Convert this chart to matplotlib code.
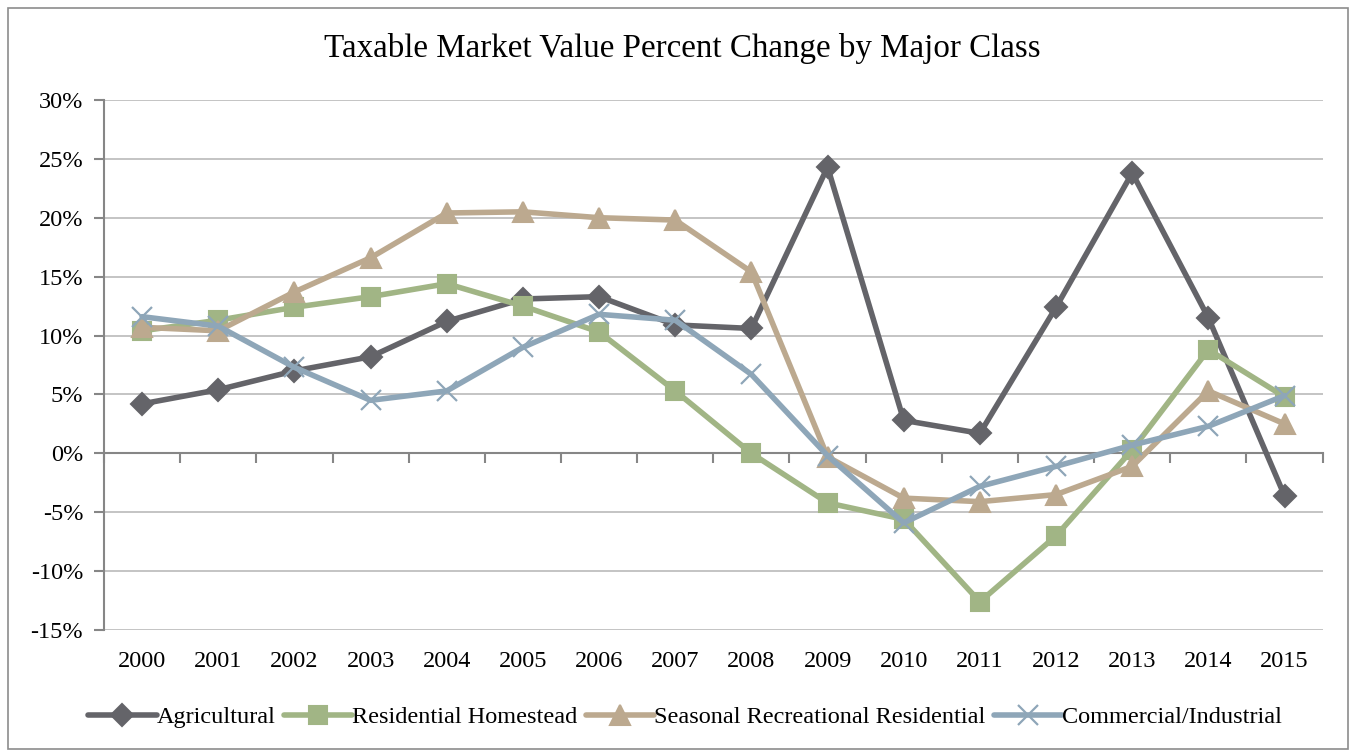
import numpy as np
import matplotlib.pyplot as plt
from matplotlib import transforms
from matplotlib.patches import Rectangle

years = [str(y) for y in range(2000, 2016)]
agricultural = [4.2, 5.4, 7.0, 8.2, 11.2, 13.1, 13.3, 10.9, 10.6, 24.3, 2.8, 1.7, 12.4, 23.8, 11.5, -3.6]
res_homestead = [10.4, 11.3, 12.4, 13.3, 14.4, 12.5, 10.3, 5.3, 0.0, -4.2, -5.6, -12.6, -7.0, 0.3, 8.8, 4.8]
seasonal_rec = [10.7, 10.4, 13.7, 16.6, 20.4, 20.5, 20.0, 19.8, 15.4, -0.3, -3.8, -4.1, -3.5, -1.1, 5.3, 2.5]
commercial = [11.6, 10.8, 7.3, 4.5, 5.3, 9.0, 11.8, 11.3, 6.7, -0.2, -5.9, -2.8, -1.1, 0.7, 2.3, 4.9]

plt.rcParams['font.family'] = ['Liberation Serif', 'DejaVu Serif']

fig = plt.figure(figsize=(13.51, 7.51), dpi=100)
fig.patches.append(Rectangle((0.006, 0.003), 0.992, 0.986, transform=fig.transFigure,
                             fill=False, edgecolor='#8c8c8c', linewidth=1.2))
ax = fig.add_axes([0.077, 0.161, 0.902, 0.706])

x = np.arange(len(years))
series = [
    ('Agricultural', agricultural, '#646469', 'D', 11, 1.5),
    ('Residential Homestead', res_homestead, '#a1b585', 's', 13, 1.5),
    ('Seasonal Recreational Residential', seasonal_rec, '#bca98f', '^', 14, 1.5),
    ('Commercial/Industrial', commercial, '#8ea6b8', 'x', 14, 1.6),
]
for name, vals, col, mk, ms, mew in series:
    ax.plot(x, vals, color=col, linewidth=4.0, marker=mk, markersize=ms,
            markeredgewidth=mew, markeredgecolor=col, markerfacecolor=col,
            label=name, solid_joinstyle='round', solid_capstyle='round', zorder=3)

ax.set_xlim(-0.5, len(years) - 0.5)
ax.set_ylim(-15, 30)
ax.set_yticks(np.arange(-15, 31, 5))
ax.set_yticklabels([f'{v}%' for v in range(-15, 31, 5)], fontsize=17.5)
ax.yaxis.grid(True, color='#bfbfbf', linewidth=1.3, zorder=0)
ax.set_axisbelow(True)

for s in ['top', 'right']:
    ax.spines[s].set_visible(False)
ax.spines['left'].set_color('#868686')
ax.spines['left'].set_linewidth(1.5)
ax.spines['bottom'].set_position(('data', 0))
ax.spines['bottom'].set_color('#868686')
ax.spines['bottom'].set_linewidth(1.5)
ax.tick_params(axis='y', direction='out', length=7, color='#868686', width=1.5, pad=8)

ax.set_xticks(np.arange(len(years) + 1) - 0.5)
ax.set_xticklabels([])
ax.tick_params(axis='x', direction='out', length=7, color='#868686', width=1.5)

trans = transforms.blended_transform_factory(ax.transData, ax.transAxes)
for xi, lab in zip(x, years):
    ax.text(xi, -0.060, lab, transform=trans, ha='center', va='center', fontsize=17.5)

fig.text(0.505, 0.935, 'Taxable Market Value Percent Change by Major Class',
         ha='center', va='center', fontsize=23.8)

fig.legend(loc='center', bbox_to_anchor=(0.507, 0.045), ncol=4, frameon=False,
           fontsize=17.5, handlelength=2.8, handletextpad=0.0, columnspacing=0.35,
           borderaxespad=0)

fig.savefig('out.png', dpi=100)
